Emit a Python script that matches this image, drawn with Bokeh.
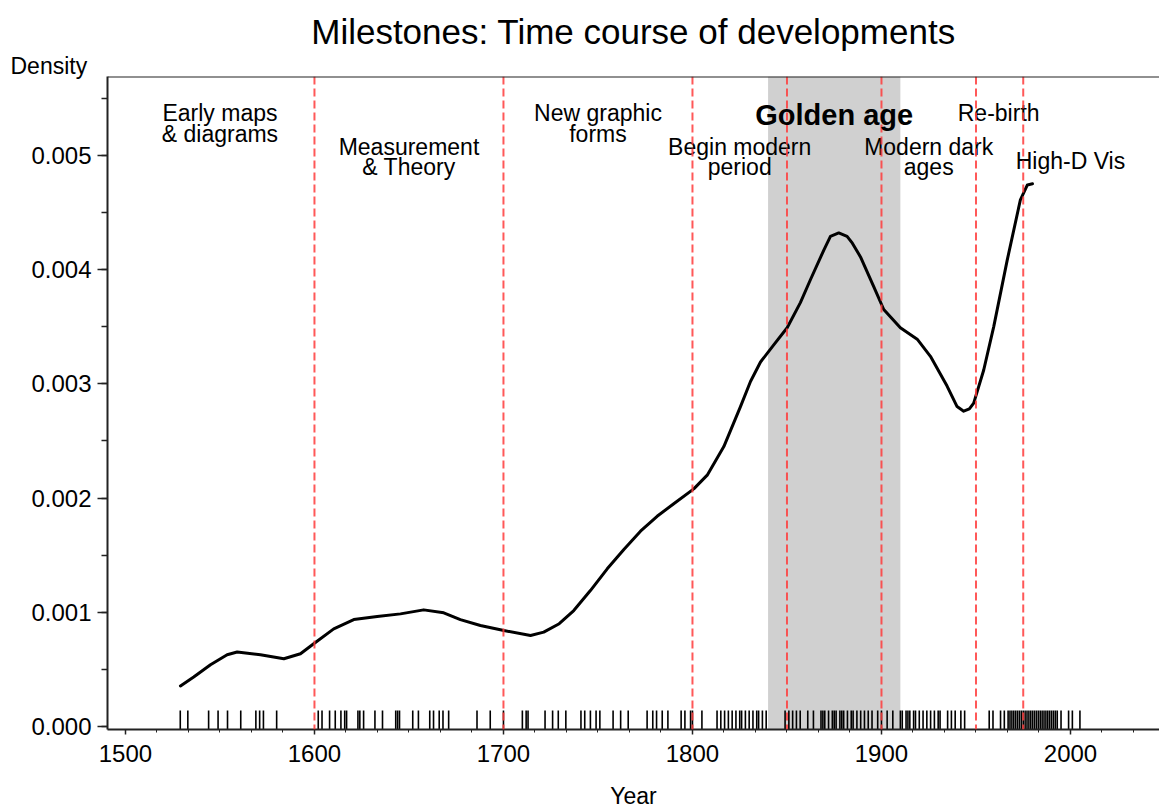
from bokeh.plotting import figure
from bokeh.models import (Span, BoxAnnotation, Label, Range1d, FixedTicker,
                          PrintfTickFormatter, Title)
from bokeh.core.properties import value
from bokeh.embed import file_html
from bokeh.resources import INLINE

# ---- data ----
curve_year = [1529.1, 1536.1, 1545.0, 1553.8, 1559.1, 1571.4, 1583.8, 1592.6,
              1599.6, 1610.2, 1620.8, 1633.2, 1645.5, 1657.8, 1668.4, 1677.2,
              1687.8, 1700.2, 1714.3, 1721.3, 1729.5, 1737.2, 1746.0, 1754.9,
              1763.7, 1772.5, 1781.3, 1790.1, 1800.7, 1807.8, 1816.6, 1825.4,
              1830.7, 1836.0, 1843.0, 1850.1, 1857.1, 1862.4, 1869.5,
              1873.0, 1877.4, 1881.8, 1884.6, 1888.9, 1895.9, 1901.2, 1910.0,
              1918.9, 1925.9, 1934.7, 1940.0, 1943.5, 1946.5, 1948.8, 1954.1,
              1959.4, 1966.5, 1973.5, 1977.2, 1979.9]
curve_density = [0.000355, 0.000433, 0.000541, 0.000628, 0.000652, 0.000628,
                 0.000593, 0.000637, 0.000724, 0.000855, 0.000936, 0.000963,
                 0.000986, 0.001021, 0.000995, 0.000936, 0.000884, 0.000840,
                 0.000797, 0.000826, 0.000900, 0.001015, 0.00119, 0.00138,
                 0.00155, 0.00171, 0.00184, 0.00195, 0.00208, 0.00220, 0.00245,
                 0.00280, 0.00302, 0.00319, 0.00334, 0.00349, 0.00371,
                 0.00391, 0.00417, 0.00429, 0.00432, 0.00429, 0.00423, 0.00411,
                 0.00385, 0.00365, 0.00349, 0.00339, 0.00324, 0.00298, 0.00280,
                 0.00276, 0.00278, 0.00283, 0.00312, 0.00350, 0.00408, 0.00461,
                 0.00474, 0.00475]

rug_years = [1529, 1533, 1544, 1549, 1554, 1561, 1569, 1571, 1573, 1580,
             1602, 1604, 1608, 1611, 1614, 1616, 1617, 1623, 1624, 1626, 1632,
             1636, 1643, 1644, 1645, 1652, 1655, 1661, 1663, 1666, 1668, 1671,
             1686, 1693, 1700, 1710, 1712, 1713, 1722, 1726, 1729, 1733, 1741,
             1743, 1746, 1749, 1751, 1758, 1762, 1766, 1776, 1779, 1781, 1784,
             1787, 1794, 1796, 1799, 1800, 1805, 1813, 1815, 1817, 1819, 1821,
             1823, 1825, 1826, 1828, 1830, 1832, 1834, 1835, 1837, 1839, 1849,
             1851, 1853, 1855, 1857, 1861, 1864, 1868, 1869, 1870, 1872, 1874,
             1875, 1876, 1878, 1879, 1880, 1882, 1884, 1885, 1887, 1889, 1891,
             1893, 1895, 1898, 1900, 1903, 1906, 1910, 1911, 1913, 1914, 1915,
             1917, 1918, 1920, 1922, 1924, 1926, 1928, 1930, 1931, 1935, 1937,
             1939, 1942, 1944, 1957, 1959, 1963, 1965, 1967, 1968, 1969, 1970,
             1971, 1972, 1973, 1974, 1975, 1976, 1977, 1978, 1979, 1980, 1981,
             1982, 1983, 1984, 1985, 1986, 1987, 1988, 1989, 1990, 1991, 1992,
             1993, 1995, 1999, 2001, 2005]

period_breaks = [1600, 1700, 1800, 1850, 1900, 1950, 1975]
golden_age = (1840, 1910)

label_text = ["Early maps", "& diagrams", "Measurement", "& Theory",
              "New graphic", "forms", "Begin modern", "period",
              "Modern dark", "ages", "Re-birth", "High-D Vis"]
label_year = [1550, 1550, 1650, 1650, 1750, 1750, 1825, 1825,
              1925, 1925, 1962, 2000]
label_dens = [0.00537, 0.00519, 0.00507, 0.00490, 0.00537, 0.00519,
              0.00507, 0.00490, 0.00507, 0.00490, 0.00537, 0.00495]

x_ticks = [1500, 1600, 1700, 1800, 1900, 2000]
y_ticks = [0.0, 0.001, 0.002, 0.003, 0.004, 0.005]

FONT = "Liberation Sans"
X0, X1 = 1490.5, 2047.1
Y0, Y1 = -0.000026, 0.005689

p = figure(width=1159, height=811, output_backend="svg", toolbar_location=None,
           x_range=Range1d(X0, X1), y_range=Range1d(Y0, Y1), title=None,
           min_border_left=107, min_border_right=0, min_border_top=76,
           min_border_bottom=80)
p.outline_line_color = None
p.xgrid.grid_line_color = None
p.ygrid.grid_line_color = None
p.background_fill_color = "white"
p.border_fill_color = "white"

# "Density" label (closest to frame), then the main title above it
p.add_layout(Title(text="Density", align="left", offset=-97, standoff=-4,
                   text_font=FONT, text_font_size="23px",
                   text_font_style="normal", text_color="black"), "above")
p.add_layout(Title(text="Milestones: Time course of developments",
                   align="center", standoff=4, text_font=FONT,
                   text_font_size="35px", text_font_style="normal",
                   text_color="black"), "above")

# golden age shading
p.add_layout(BoxAnnotation(left=golden_age[0], right=golden_age[1],
                           fill_color="#d0d0d0", fill_alpha=1.0,
                           line_color=None, level="underlay"))

# period break lines
for yr in period_breaks:
    p.add_layout(Span(location=yr, dimension="height", line_color="#ff3b3b",
                      line_alpha=0.85, line_width=2, line_dash="8 4"))

# top border line
p.add_layout(Span(location=Y1, dimension="width", line_color="#222222",
                  line_width=2))

# density curve
p.line(curve_year, curve_density, line_color="black", line_width=3,
       line_join="round", line_cap="round")

# rug
rug_top = 0.00014
p.segment(x0=rug_years, y0=[Y0] * len(rug_years), x1=rug_years,
          y1=[rug_top] * len(rug_years), line_color="black", line_width=1.6)

# period labels
p.text(x=label_year, y=label_dens, text=label_text, text_align="center",
       text_baseline="middle", text_font=value(FONT), text_font_size="23px",
       text_color="black")
p.add_layout(Label(x=1875, y=0.00535, text="Golden age", text_align="center",
                   text_baseline="middle", text_font=FONT,
                   text_font_size="29px", text_font_style="bold",
                   text_color="black"))

# axes
xa = p.xaxis[0]
xa.ticker = FixedTicker(ticks=x_ticks,
                        minor_ticks=[1500 + i * 100 / 6 for i in range(34)])
xa.major_label_text_font = FONT
xa.major_label_text_font_size = "24px"
xa.major_label_text_color = "black"
xa.major_label_standoff = 10
xa.major_tick_in = 0
xa.major_tick_out = 5
xa.minor_tick_in = 0
xa.minor_tick_out = 3
xa.axis_line_width = 2
xa.axis_line_color = "#222222"
xa.major_tick_line_color = "#222222"
xa.minor_tick_line_color = "#222222"
xa.major_tick_line_width = 1.5
xa.axis_label = "Year"
xa.axis_label_text_font = FONT
xa.axis_label_text_font_size = "23px"
xa.axis_label_text_font_style = "normal"
xa.axis_label_text_color = "black"
xa.axis_label_standoff = 18

ya = p.yaxis[0]
ya.ticker = FixedTicker(ticks=y_ticks,
                        minor_ticks=[i * 0.0005 for i in range(12)])
ya.formatter = PrintfTickFormatter(format="%.3f")
ya.major_label_text_font = FONT
ya.major_label_text_font_size = "24px"
ya.major_label_text_color = "black"
ya.major_label_standoff = 6
ya.major_tick_in = 0
ya.major_tick_out = 10
ya.minor_tick_in = 0
ya.minor_tick_out = 6
ya.axis_line_width = 2
ya.axis_line_color = "#222222"
ya.major_tick_line_color = "#222222"
ya.minor_tick_line_color = "#222222"
ya.major_tick_line_width = 1.5
ya.minor_tick_line_width = 1.5

open("out.html", "w").write(file_html(p, INLINE))
